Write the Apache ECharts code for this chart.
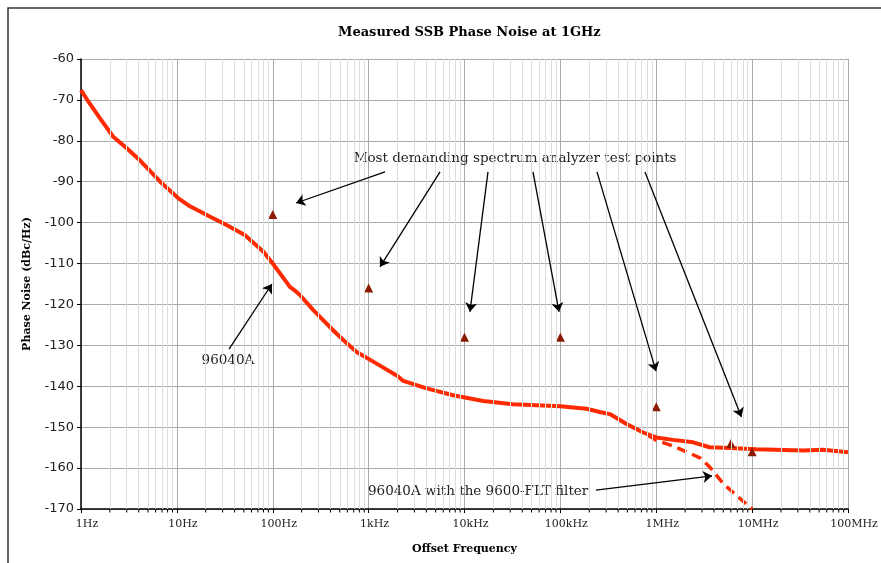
<!DOCTYPE html>
<html>
<head>
<meta charset="utf-8">
<script src="https://cdn.jsdelivr.net/npm/echarts@6/dist/echarts.min.js"></script>
<style>
  html, body { margin: 0; padding: 0; background: #fff; }
  #chart { width: 881px; height: 563px; }
</style>
</head>
<body>
<div id="chart"></div>
<script>
// x tick labels, one per decade
const tickLabels = ['1Hz', '10Hz', '100Hz', '1kHz', '10kHz', '100kHz', '1MHz', '10MHz', '100MHz']

// 96040A measured curve
const mainFreq = [1, 1.2, 1.58, 2.17, 3, 4, 6.7, 10.3, 13.7, 22, 33, 51, 80, 100, 151, 170, 192,
  265, 426, 543, 750, 1200, 2000, 2300, 4030, 7600, 15700, 32000, 100000, 187000, 258000,
  328000, 490000, 730000, 1e6, 1.5e6, 2.43e6, 3.6e6, 5.9e6, 1.1e7, 3.4e7, 5.5e7, 1e8]
const mainDb = [-67.6, -70.5, -74.5, -79, -81.8, -84.5, -90, -94, -96, -98.5, -100.6, -103, -107.1, -110, -115.7, -116.6, -117.7,
  -121.4, -126.3, -128.7, -131.6, -134.4, -137.5, -138.7, -140.5, -142.2, -143.6, -144.4, -144.9, -145.5, -146.3,
  -146.8, -149.2, -151.3, -152.5, -153.1, -153.7, -154.9, -155.1, -155.4, -155.7, -155.5, -156.1]

// 96040A with the 9600-FLT filter
const fltFreq = [820000, 1e6, 1.5e6, 2.2e6, 2.85e6, 3.6e6, 5e6, 6.8e6, 1e7]
const fltDb = [-152, -153.2, -154.6, -156.3, -157.5, -159.7, -163.8, -166.6, -170]

// spectrum analyzer test points
const testFreq = [100, 1000, 1e4, 1e5, 1e6, 6e6, 1e7]
const testDb = [-98, -116, -128, -128, -145, -154, -156]

const minorFreq = []
for (let n = 0; n < 8; n++) {
  for (let k = 2; k <= 9; k++) minorFreq.push(k * Math.pow(10, n))
}

// arrows [from, to] in data coords
const arrows = [
  [[1482, -87.6], [175, -95.2]],
  [[5556, -87.6], [1314, -110.8]],
  [[17580, -87.6], [11400, -121.8]],
  [[51800, -87.6], [96800, -121.8]],
  [[241000, -87.6], [994000, -136.3]],
  [[763000, -87.6], [7.74e6, -147.5]],
  [[35, -130.9], [98, -115]],
  [[235000, -165.4], [3.82e6, -161.9]]
]

const zip = (a, b) => a.map((v, i) => [v, b[i]])

const chart = echarts.init(document.getElementById('chart'))
const option = {
  animation: false,
  backgroundColor: '#fff',
  title: {
    text: 'Measured SSB Phase Noise at 1GHz',
    left: 333,
    top: 21,
    textStyle: { fontFamily: 'DejaVu Serif', fontWeight: 'bold', fontSize: 13, color: '#000' }
  },
  grid: { left: 81, top: 59, right: 33, bottom: 54 },
  xAxis: {
    type: 'log',
    logBase: 10,
    min: 1,
    max: 1e8,
    splitNumber: 8,
    name: 'Offset Frequency',
    nameLocation: 'middle',
    nameGap: 35,
    nameTextStyle: { fontFamily: 'DejaVu Serif', fontWeight: 'bold', fontSize: 11, color: '#000' },
    axisLine: { lineStyle: { color: '#000', width: 1.5 } },
    axisTick: { length: 4, lineStyle: { color: '#000' } },
    axisLabel: {
      fontFamily: 'DejaVu Serif',
      fontSize: 11,
      color: '#222',
      margin: 10,
      padding: [0, 0, 0, 12],
      formatter: v => tickLabels[Math.round(Math.log10(v))]
    },
    splitLine: { show: true, lineStyle: { color: '#aaa', width: 1 } }
  },
  yAxis: {
    type: 'value',
    min: -170,
    max: -60,
    interval: 10,
    name: 'Phase Noise (dBc/Hz)',
    nameLocation: 'middle',
    nameGap: 48,
    nameTextStyle: { fontFamily: 'DejaVu Serif', fontWeight: 'bold', fontSize: 11, color: '#000' },
    axisLine: { show: true, lineStyle: { color: '#000', width: 1.5 } },
    axisTick: { show: true, length: 4, lineStyle: { color: '#000' } },
    axisLabel: { fontFamily: 'DejaVu Sans', fontSize: 13, color: '#222', margin: 7 },
    splitLine: { show: true, lineStyle: { color: '#aaa', width: 1 } }
  },
  series: [
    {
      name: 'minor grid',
      type: 'line',
      data: [],
      z: -1,
      silent: true,
      markLine: {
        silent: true,
        symbol: 'none',
        label: { show: false },
        lineStyle: { color: '#ddd', width: 1, type: 'solid' },
        data: minorFreq.map(f => ({ xAxis: f }))
      }
    },
    {
      name: '96040A',
      type: 'line',
      data: zip(mainFreq, mainDb),
      showSymbol: false,
      lineStyle: { color: '#ff2a00', width: 4 },
      z: 3
    },
    {
      name: '96040A with the 9600-FLT filter',
      type: 'line',
      data: zip(fltFreq, fltDb),
      showSymbol: false,
      lineStyle: { color: '#ff2a00', width: 3.5, type: [10, 6] },
      z: 3
    },
    {
      name: 'test points',
      type: 'scatter',
      data: zip(testFreq, testDb),
      symbol: 'triangle',
      symbolSize: 9,
      itemStyle: { color: '#8b1a00', opacity: 1 },
      z: 4
    },
    {
      name: 'arrows',
      type: 'line',
      data: [],
      z: 5,
      markLine: {
        silent: true,
        symbol: ['none', 'arrow'],
        symbolSize: 9,
        label: { show: false },
        lineStyle: { color: '#000', width: 1.3, type: 'solid' },
        data: arrows.map(a => [{ coord: a[0] }, { coord: a[1] }])
      }
    }
  ]
}
chart.setOption(option)

// annotation texts and minor x ticks, placed through the axes
const px = (f, d) => chart.convertToPixel({ xAxisIndex: 0, yAxisIndex: 0 }, [f, d])
const textStyle = { fontFamily: 'DejaVu Serif', fontSize: 13.5, fill: '#222' }
const p1 = px(33700, -84.2)
const p2 = px(34.1, -133.8)
const p3 = px(984, -165.6)
const graphics = [
  {
    type: 'rect',
    shape: { x: 8, y: 8, width: 1000, height: 1000 },
    style: { fill: null, stroke: '#333', lineWidth: 1.5 },
    silent: true
  },
  { type: 'text', x: p1[0], y: p1[1], style: Object.assign({ text: 'Most demanding spectrum analyzer test points', align: 'center', verticalAlign: 'middle' }, textStyle) },
  { type: 'text', x: p2[0], y: p2[1], style: Object.assign({ text: '96040A', align: 'center', verticalAlign: 'middle' }, textStyle) },
  { type: 'text', x: p3[0], y: p3[1], style: Object.assign({ text: '96040A with the 9600-FLT filter', align: 'left', verticalAlign: 'middle' }, textStyle) }
]
minorFreq.forEach(f => {
  const p = px(f, -170)
  graphics.push({
    type: 'line',
    silent: true,
    shape: { x1: p[0], y1: p[1], x2: p[0], y2: p[1] + 3.5 },
    style: { stroke: '#000', lineWidth: 1 }
  })
})
chart.setOption({ graphic: graphics })
</script>
</body>
</html>
